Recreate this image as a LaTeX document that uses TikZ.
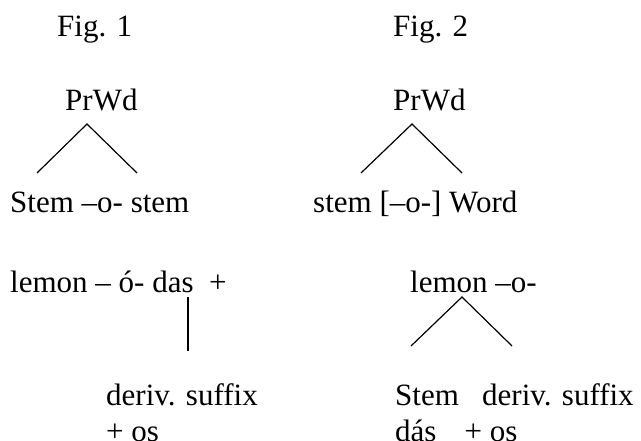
\documentclass[tikz,border=0pt]{standalone}
\usepackage{fontspec}
\setmainfont{Liberation Serif}
\begin{document}
\begin{tikzpicture}[x=1pt,y=-1pt,
  lbl/.style={inner sep=0pt,anchor=base west,font=\fontsize{31}{36}\selectfont},
  branch/.style={line width=1.2pt,line cap=butt}]
\useasboundingbox (0,0) rectangle (641,441);
% Fig. 1
\node[lbl] (fig1) at (57,37) {Fig. 1};
\node[lbl] (prwd1) at (65,111) {PrWd};
\coordinate (apex1) at (87,124);
\coordinate (l1) at (37,173);
\coordinate (r1) at (137,173);
\draw[branch] (l1) -- (apex1) -- (r1);
\node[lbl] (stem1) at (10,213) {Stem –o- stem};
\node[lbl] (lemon1) at (10,293) {lemon – ó- das\ \ +};
\coordinate (vtop) at (188,297);
\coordinate (vbot) at (188,351);
\draw[branch] (vtop) -- (vbot);
\node[lbl] (deriv1) at (106,405) {deriv. suffix};
\node[lbl] (os1) at (106,441) {+ os};
% Fig. 2
\node[lbl] (fig2) at (393,37) {Fig. 2};
\node[lbl] (prwd2) at (393,111) {PrWd};
\coordinate (apex2) at (412,124);
\coordinate (l2) at (361,173);
\coordinate (r2) at (462,173);
\draw[branch] (l2) -- (apex2) -- (r2);
\node[lbl] (stem2) at (313,213) {stem [–o-] Word};
\node[lbl] (lemon2) at (410,293) {lemon –o-};
\coordinate (apex3) at (462,297);
\coordinate (l3) at (411,346);
\coordinate (r3) at (512,346);
\draw[branch] (l3) -- (apex3) -- (r3);
\node[lbl] (deriv2) at (395,405) {Stem\ \ \ deriv. suffix};
\node[lbl] (os2) at (395,441) {dás\hspace{28pt}+ os};
\end{tikzpicture}
\end{document}
